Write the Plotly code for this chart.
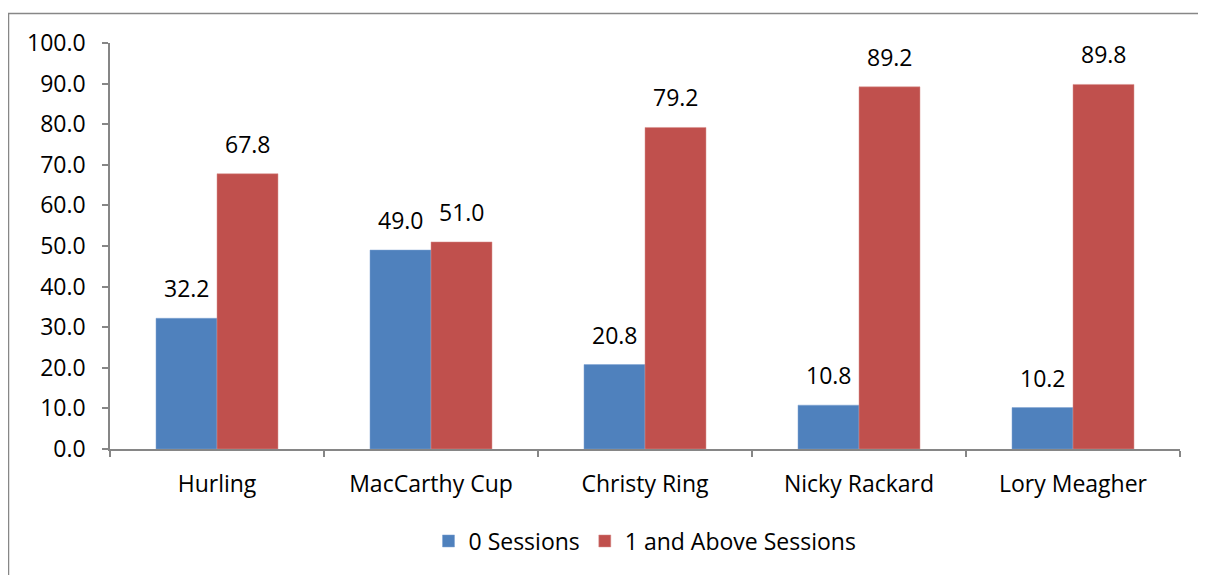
import plotly.graph_objects as go

categories = ["Hurling", "MacCarthy Cup", "Christy Ring", "Nicky Rackard", "Lory Meagher"]
zero_sessions = [32.2, 49.0, 20.8, 10.8, 10.2]
one_plus_sessions = [67.8, 51.0, 79.2, 89.2, 89.8]
y_ticks = [0, 10, 20, 30, 40, 50, 60, 70, 80, 90, 100]

FONT = "Open Sans"
FS = 23
fig = go.Figure()
fig.add_trace(go.Bar(
    x=categories, y=zero_sessions, name="0 Sessions",
    marker=dict(color="#4F81BD", line=dict(color="#7FA3D3", width=0.5)),
))
fig.add_trace(go.Bar(
    x=categories, y=one_plus_sessions, name="1 and Above Sessions",
    marker=dict(color="#C0504D", line=dict(color="#D9908E", width=0.5)),
))

# page is rendered with an 8px body margin; compensate
OFF = 8
W, H = 1206, 575
l, r, t, b = 110 - OFF, 34, 43 - OFF, 134
pw, ph = W - l - r, H - t - b

def px(x):  # page x -> paper
    return (x - OFF - l) / pw

def py(y):  # page y -> paper
    return (H - b - (y - OFF)) / ph

annotations = []
for vals, shift in ((zero_sessions, -30.5), (one_plus_sessions, 30.5)):
    for c, v in zip(categories, vals):
        annotations.append(dict(
            x=c, y=v, xref="x", yref="y", text=f"{v:.1f}", showarrow=False,
            xanchor="center", yanchor="bottom", xshift=shift, yshift=12,
            font=dict(size=FS, family=FONT, color="#000000"),
        ))

fig.update_layout(
    width=W, height=H,
    margin=dict(l=l, r=r, t=t, b=b),
    paper_bgcolor="white", plot_bgcolor="white",
    barmode="group", bargap=0.43, bargroupgap=0,
    font=dict(family=FONT, size=FS, color="#000000"),
    showlegend=True,
    legend=dict(orientation="h", x=0.5, xanchor="center", y=py(541), yanchor="middle",
                font=dict(size=FS, family=FONT), itemwidth=30, traceorder="normal"),
    annotations=annotations,
    shapes=[dict(type="rect", xref="paper", yref="paper",
                 x0=px(8.5), x1=px(1225), y0=py(600), y1=py(13.5),
                 line=dict(color="#878787", width=1.5), fillcolor="rgba(0,0,0,0)", layer="below")],
)
fig.update_yaxes(
    range=[0, 100], tickvals=y_ticks, ticktext=[f"{v:.1f}" for v in y_ticks],
    showgrid=False, zeroline=False, showline=True, linecolor="#868686", linewidth=1.5,
    ticks="outside", ticklen=6, tickcolor="#868686", tickwidth=1.5,
    tickfont=dict(size=FS, family=FONT), ticklabelstandoff=12,
)
fig.update_xaxes(
    showgrid=False, showline=True, linecolor="#868686", linewidth=1.5,
    ticks="outside", ticklen=6, tickcolor="#868686", tickwidth=1.5, tickson="boundaries",
    tickfont=dict(size=FS, family=FONT), ticklabelstandoff=14,
)

fig.write_html("out.html")
